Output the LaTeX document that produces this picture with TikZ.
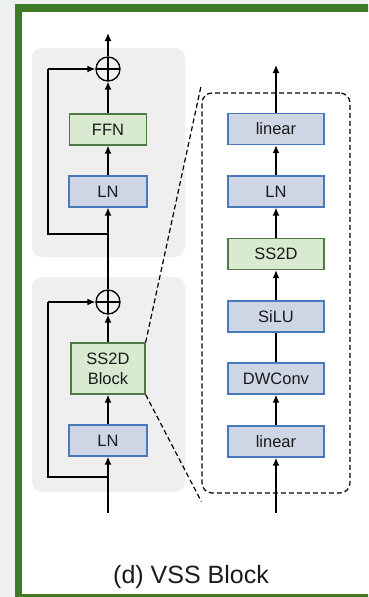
\documentclass[tikz,border=0pt]{standalone}
\usepackage{fontspec}
\setmainfont{Liberation Sans}
\usetikzlibrary{arrows.meta}
\definecolor{outerbg}{HTML}{EEF0F2}
\definecolor{framegreen}{HTML}{3F7A27}
\definecolor{panelgray}{HTML}{EFEFEF}
\definecolor{bluefill}{HTML}{CED5E5}
\definecolor{blueline}{HTML}{4A78BC}
\definecolor{greenfill}{HTML}{D8EBD1}
\definecolor{greenline}{HTML}{4F7A45}
\definecolor{textdark}{HTML}{1A1A1A}
\tikzset{
  blk/.style={draw, line width=1.3pt, minimum height=31pt, inner sep=0pt, align=center,
    text=textdark, font=\fontsize{16.5}{20}\selectfont},
  bluebox/.style={blk, fill=bluefill, draw=blueline},
  greenbox/.style={blk, fill=greenfill, draw=greenline},
  sumnode/.style={circle, draw, line width=1.3pt, minimum size=24pt, inner sep=0pt,
    path picture={\draw[line width=1.1pt] (path picture bounding box.north) -- (path picture bounding box.south)
      (path picture bounding box.west) -- (path picture bounding box.east);}},
  conn/.style={line width=1.4pt, -{Latex[length=8pt,width=7pt]}},
  plain/.style={line width=1.4pt},
  dashline/.style={line width=1.2pt, dash pattern=on 5pt off 3pt},
  panel/.style={fill=panelgray, rounded corners=10pt},
}
\begin{document}
\begin{tikzpicture}[x=1pt,y=-1pt]
\useasboundingbox (0,0) rectangle (368,597);
\clip (0,0) rectangle (368,597);
\fill[outerbg] (0,0) rectangle (368,597);
\fill[white] (18.5,8) rectangle (380,597.5);
\draw[framegreen, line width=7.5pt] (18.5,8) rectangle (380,597.5);
% panels
\fill[panel] (32,48) rectangle (185,257);
\fill[panel] (32,277) rectangle (185,492);
% left column
\node[sumnode] (s1) at (108,69) {};
\node[greenbox, minimum width=77pt] (ffn) at (108,129.5) {FFN};
\node[bluebox, minimum width=78pt] (ln1) at (108,191.5) {LN};
\node[sumnode] (s2) at (108,302) {};
\node[greenbox, minimum width=74pt, minimum height=51pt] (ss2db) at (108,368.5) {SS2D\\Block};
\node[bluebox, minimum width=78pt] (ln2) at (108,440.5) {LN};
\coordinate (out1) at (108,33);
\coordinate (br1) at (108,234);
\coordinate (in2) at (108,513);
\coordinate (br2) at (108,477);
\draw[conn] (s1) -- (out1);
\draw[conn] (ffn) -- (s1);
\draw[conn] (ln1) -- (ffn);
\draw[conn] (s2) -- (ln1);
\draw[plain] (br1) -- (48,234) -- (48,69);
\draw[conn] (48,69) -- (s1.west);
\draw[conn] (ss2db) -- (s2);
\draw[conn] (ln2) -- (ss2db);
\draw[conn] (in2) -- (ln2);
\draw[plain] (br2) -- (48,477) -- (48,302);
\draw[conn] (48,302) -- (s2.west);
% right column
\node[draw, dashline, rounded corners=10pt, minimum width=148pt, minimum height=400pt] (dbox) at (276,293) {};
\node[bluebox, minimum width=96pt] (lin2) at (276,129) {linear};
\node[bluebox, minimum width=96pt] (lnr) at (276,191.5) {LN};
\node[greenbox, minimum width=96pt] (ss2d) at (276,254) {SS2D};
\node[bluebox, minimum width=96pt] (silu) at (276,316.5) {SiLU};
\node[bluebox, minimum width=96pt] (dwc) at (276,378.5) {DWConv};
\node[bluebox, minimum width=96pt] (lin1) at (276,441.5) {linear};
\coordinate (out2) at (276,65);
\coordinate (in3) at (276,513);
\draw[conn] (lin2) -- (out2);
\draw[conn] (lnr) -- (lin2);
\draw[conn] (ss2d) -- (lnr);
\draw[conn] (silu) -- (ss2d);
\draw[plain] (dwc) -- (silu);
\draw[conn] (lin1) -- (dwc);
\draw[conn] (in3) -- (lin1);
% zoom lines
\draw[dashline] (ss2db.north east) -- ([yshift=8pt]dbox.north west);
\draw[dashline] (ss2db.south east) -- ([yshift=-8pt]dbox.south west);
% caption
\node[font=\fontsize{25}{28}\selectfont, text=textdark, anchor=base] (cap) at (191,583) {(d) VSS Block};
\end{tikzpicture}
\end{document}
